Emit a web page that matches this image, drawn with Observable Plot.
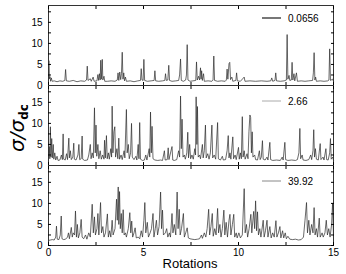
<!DOCTYPE html>
<html><head><meta charset="utf-8">
<script src="https://cdn.jsdelivr.net/npm/d3@7"></script>
<script src="https://cdn.jsdelivr.net/npm/@observablehq/plot@0.6"></script>
<style>
body{margin:0;background:#fff;}
#wrap{position:relative;width:346px;height:274px;font-family:"Liberation Sans",Arial,sans-serif;}
#wrap > svg{display:block;}
</style></head><body><div id="wrap"></div>
<script>
const legendLabels = ["0.0656", "2.66", "39.92"];
const xLabel = "Rotations";
const xTicks = [0, 2.5, 5, 7.5, 10, 12.5, 15];
const yTicks = [0, 2.5, 5, 7.5, 10, 12.5, 15, 17.5];

const series1 = [[0,1.2],[0.02,5.9],[0.05,1.6],[0.08,2.1],[0.11,1.0],[0.15,1.8],[0.19,1.0],[0.3,1.1],[0.45,0.9],[0.6,1.1],[0.75,1.0],[0.86,1.2],[0.9,3.8],[0.94,1.1],[1.1,1.0],[1.3,1.2],[1.5,0.9],[1.7,1.1],[1.9,1.0],[2.0,1.3],[2.04,4.6],[2.08,1.2],[2.2,1.6],[2.25,1.0],[2.35,2.0],[2.4,1.0],[2.55,1.1],[2.6,2.6],[2.64,1.2],[2.68,2.8],[2.72,1.3],[2.75,6.0],[2.78,1.5],[2.83,6.2],[2.86,1.3],[2.92,2.2],[2.96,1.0],[3.1,1.0],[3.3,1.1],[3.5,1.0],[3.62,1.3],[3.66,3.0],[3.7,1.2],[3.75,3.2],[3.8,1.4],[3.84,2.8],[3.88,7.9],[3.92,1.5],[3.96,3.0],[4.0,1.1],[4.05,2.0],[4.1,1.0],[4.3,1.1],[4.5,0.9],[4.7,1.1],[4.84,1.2],[4.88,4.0],[4.92,1.3],[4.98,1.2],[5.02,6.2],[5.06,1.2],[5.2,1.0],[5.4,1.1],[5.56,1.2],[5.6,3.5],[5.64,1.1],[5.8,1.0],[6.0,1.1],[6.12,1.2],[6.16,2.8],[6.2,1.2],[6.28,1.3],[6.33,4.8],[6.37,1.2],[6.5,1.0],[6.7,1.1],[6.85,1.2],[6.9,2.5],[6.95,6.3],[6.99,1.2],[7.1,1.0],[7.22,1.3],[7.26,2.5],[7.3,9.7],[7.34,1.3],[7.45,1.0],[7.6,1.1],[7.75,1.2],[7.79,5.6],[7.83,1.3],[7.9,2.2],[7.95,1.3],[8.0,4.2],[8.03,1.5],[8.06,3.5],[8.1,1.2],[8.16,2.8],[8.2,1.0],[8.4,1.1],[8.6,1.0],[8.66,1.3],[8.7,7.0],[8.74,1.2],[8.9,1.0],[9.1,1.1],[9.3,1.0],[9.36,1.3],[9.4,3.9],[9.44,1.5],[9.5,5.2],[9.54,5.5],[9.58,1.4],[9.65,2.0],[9.7,1.0],[9.86,1.2],[9.9,3.0],[9.94,1.1],[10.1,1.0],[10.3,2.0],[10.34,1.0],[10.6,1.1],[10.9,1.0],[11.2,1.1],[11.5,1.0],[11.7,1.1],[11.75,1.8],[11.8,1.0],[11.92,1.2],[11.96,3.0],[12.0,1.1],[12.2,1.0],[12.4,1.1],[12.52,1.3],[12.56,12.1],[12.6,1.5],[12.66,2.4],[12.7,1.2],[12.78,1.3],[12.82,5.5],[12.86,1.3],[12.92,2.8],[12.96,1.1],[13.05,3.0],[13.1,1.0],[13.3,1.1],[13.5,1.0],[13.7,1.1],[13.9,1.2],[13.94,3.0],[13.98,7.8],[14.02,1.3],[14.06,2.0],[14.1,1.0],[14.3,1.1],[14.5,1.0],[14.7,1.1],[14.76,1.3],[14.8,8.7],[14.84,1.2],[14.95,1.5],[15,1.0]];

const series2 = [[0,1.5],[0.04,4.5],[0.07,1.6],[0.1,9.2],[0.13,2.0],[0.17,6.4],[0.2,1.8],[0.25,5.0],[0.28,1.5],[0.33,3.0],[0.38,1.3],[0.45,2.2],[0.5,1.2],[0.6,1.3],[0.68,2.5],[0.73,1.4],[0.77,7.5],[0.8,1.5],[0.88,1.3],[0.95,2.8],[1.0,1.4],[1.07,6.5],[1.1,1.8],[1.15,3.5],[1.2,1.4],[1.28,2.0],[1.33,5.3],[1.36,1.5],[1.45,1.3],[1.55,2.5],[1.6,5.0],[1.64,1.4],[1.72,1.6],[1.77,7.0],[1.8,1.5],[1.9,1.2],[2.05,1.3],[2.12,2.5],[2.2,5.0],[2.24,1.6],[2.3,3.0],[2.36,1.8],[2.42,13.7],[2.46,3.0],[2.5,9.6],[2.54,2.2],[2.6,5.0],[2.65,1.6],[2.72,3.5],[2.78,1.5],[2.85,2.5],[2.92,1.5],[2.95,6.0],[2.99,1.8],[3.05,7.1],[3.09,1.6],[3.15,3.0],[3.2,1.5],[3.28,4.0],[3.32,2.0],[3.35,14.1],[3.39,3.0],[3.44,8.0],[3.49,9.2],[3.53,2.0],[3.6,4.0],[3.65,1.6],[3.7,6.5],[3.74,1.5],[3.82,2.5],[3.88,1.4],[3.98,3.5],[4.02,1.8],[4.1,13.3],[4.14,3.0],[4.2,5.0],[4.25,1.6],[4.32,3.0],[4.37,10.0],[4.41,2.0],[4.5,1.4],[4.6,2.2],[4.65,1.3],[4.72,5.0],[4.76,1.6],[4.8,10.2],[4.84,1.5],[4.95,1.2],[5.05,1.3],[5.12,2.5],[5.18,1.3],[5.3,4.0],[5.33,2.0],[5.37,12.7],[5.41,3.0],[5.45,9.3],[5.5,1.6],[5.6,1.3],[5.75,1.2],[5.9,1.3],[6.0,1.2],[6.1,3.5],[6.14,1.3],[6.25,1.4],[6.3,4.2],[6.34,1.4],[6.5,4.5],[6.54,1.3],[6.62,1.2],[6.75,1.4],[6.85,3.5],[6.9,2.0],[6.95,16.5],[6.99,4.0],[7.03,11.0],[7.08,2.0],[7.15,2.5],[7.2,1.5],[7.28,3.0],[7.33,7.9],[7.37,1.8],[7.43,5.0],[7.48,1.6],[7.55,2.5],[7.62,1.5],[7.7,4.0],[7.74,2.5],[7.77,16.3],[7.81,5.0],[7.84,14.0],[7.88,2.0],[7.95,2.5],[8.0,1.6],[8.1,5.0],[8.14,1.8],[8.2,3.5],[8.26,9.6],[8.3,1.8],[8.38,2.8],[8.45,1.5],[8.52,3.0],[8.6,9.6],[8.64,1.8],[8.72,2.5],[8.8,1.5],[8.9,10.2],[8.94,1.6],[9.05,1.3],[9.15,2.2],[9.2,1.3],[9.32,1.4],[9.4,3.5],[9.46,7.1],[9.5,1.8],[9.55,3.0],[9.6,1.5],[9.7,6.8],[9.74,1.6],[9.82,2.5],[9.88,1.4],[10.0,4.3],[10.04,1.5],[10.1,3.0],[10.15,1.6],[10.2,11.6],[10.24,2.0],[10.3,3.5],[10.35,1.5],[10.45,2.8],[10.5,1.6],[10.55,8.0],[10.6,12.0],[10.64,11.4],[10.68,3.0],[10.72,8.0],[10.76,2.0],[10.85,2.5],[10.9,1.4],[11.0,1.3],[11.1,3.5],[11.14,1.4],[11.2,2.0],[11.26,5.9],[11.3,1.5],[11.4,1.3],[11.5,2.0],[11.55,1.3],[11.65,5.5],[11.69,1.4],[11.8,1.2],[12.0,1.3],[12.2,1.2],[12.3,2.0],[12.35,1.3],[12.44,5.5],[12.48,1.4],[12.6,1.2],[12.8,1.3],[13.0,1.2],[13.1,1.4],[13.18,3.0],[13.23,8.8],[13.27,1.6],[13.35,2.5],[13.4,1.3],[13.55,1.2],[13.7,1.4],[13.8,2.5],[13.85,1.4],[13.92,3.5],[13.96,8.5],[14.0,2.0],[14.05,4.0],[14.1,1.5],[14.2,1.3],[14.3,5.2],[14.34,1.4],[14.45,2.0],[14.5,1.3],[14.6,4.0],[14.64,1.4],[14.72,1.3],[14.8,3.0],[14.84,6.4],[14.88,1.5],[14.95,2.0],[15,1.3]];

const series3 = [[0,1.2],[0.1,1.3],[0.2,1.4],[0.3,1.3],[0.38,2.0],[0.42,4.6],[0.46,1.5],[0.55,1.4],[0.62,2.5],[0.67,7.0],[0.71,1.6],[0.8,1.4],[0.9,1.5],[1.0,2.0],[1.05,3.0],[1.1,1.6],[1.2,4.3],[1.25,2.0],[1.3,3.0],[1.37,2.5],[1.42,8.2],[1.47,2.0],[1.52,5.0],[1.57,1.8],[1.65,3.0],[1.72,6.2],[1.77,2.0],[1.85,1.6],[1.95,2.5],[2.02,1.5],[2.12,3.0],[2.2,2.0],[2.3,9.8],[2.36,3.0],[2.42,6.8],[2.47,2.5],[2.55,4.0],[2.6,7.6],[2.65,2.5],[2.74,10.2],[2.79,3.0],[2.86,4.5],[2.92,2.0],[3.0,3.0],[3.1,7.5],[3.15,2.0],[3.22,3.5],[3.28,2.0],[3.35,6.0],[3.4,2.5],[3.5,4.0],[3.58,11.0],[3.62,6.0],[3.67,13.9],[3.7,5.0],[3.74,12.8],[3.78,4.0],[3.83,7.6],[3.88,3.0],[3.93,8.5],[3.98,2.5],[4.05,3.0],[4.1,2.0],[4.2,4.0],[4.28,7.8],[4.33,3.0],[4.38,5.8],[4.43,2.0],[4.5,3.0],[4.56,4.2],[4.62,1.8],[4.72,2.0],[4.8,1.6],[4.88,3.5],[4.95,2.0],[5.02,6.0],[5.07,10.2],[5.12,3.0],[5.2,5.5],[5.26,2.0],[5.35,3.0],[5.42,4.0],[5.5,7.6],[5.55,2.0],[5.62,4.0],[5.68,6.0],[5.74,2.5],[5.82,4.5],[5.9,12.7],[5.95,4.0],[6.0,8.4],[6.05,2.5],[6.15,3.0],[6.22,4.0],[6.28,2.0],[6.36,3.0],[6.42,2.0],[6.5,7.6],[6.55,3.0],[6.62,5.0],[6.7,2.5],[6.77,12.7],[6.82,4.0],[6.88,8.6],[6.93,2.5],[7.0,4.0],[7.1,7.6],[7.15,2.0],[7.22,3.0],[7.3,4.2],[7.36,1.8],[7.45,1.6],[7.55,1.5],[7.7,1.4],[7.85,1.5],[7.95,1.6],[8.05,2.5],[8.1,1.7],[8.2,3.0],[8.28,2.0],[8.35,4.0],[8.43,8.6],[8.48,2.5],[8.55,4.5],[8.62,7.6],[8.67,2.2],[8.75,4.0],[8.82,2.5],[8.9,8.8],[8.95,3.0],[9.02,5.0],[9.08,2.0],[9.15,4.0],[9.23,8.4],[9.28,2.5],[9.35,5.5],[9.42,2.0],[9.5,6.0],[9.55,7.4],[9.6,2.5],[9.68,5.0],[9.75,7.4],[9.8,2.0],[9.88,3.0],[9.93,1.8],[10.02,3.0],[10.1,1.8],[10.2,2.5],[10.3,13.5],[10.35,3.0],[10.42,5.0],[10.48,2.0],[10.56,4.0],[10.65,7.4],[10.7,3.0],[10.8,8.1],[10.85,4.0],[10.9,10.6],[10.95,3.5],[11.0,8.0],[11.05,2.5],[11.12,4.0],[11.18,2.0],[11.3,6.0],[11.35,2.0],[11.42,3.5],[11.5,6.0],[11.55,2.0],[11.65,4.5],[11.72,1.8],[11.8,3.0],[11.88,2.0],[11.97,5.9],[12.02,2.0],[12.1,3.0],[12.18,4.5],[12.23,1.8],[12.32,3.5],[12.38,1.8],[12.46,3.0],[12.52,1.6],[12.6,2.2],[12.7,1.5],[12.85,1.4],[13.0,1.5],[13.15,1.3],[13.3,1.4],[13.42,2.0],[13.5,6.0],[13.58,10.2],[13.63,3.0],[13.7,6.0],[13.76,2.5],[13.85,5.0],[13.92,3.0],[13.98,9.0],[14.03,2.5],[14.1,4.0],[14.16,2.0],[14.25,6.5],[14.3,2.0],[14.4,3.0],[14.46,2.0],[14.55,3.0],[14.62,6.0],[14.68,2.5],[14.75,4.0],[14.82,2.0],[14.9,5.0],[14.95,10.0],[15,2.0]];

const panels = [
  {data: series1, label: legendLabels[0], legendStroke: "#777", legendWidth: 2, mt: 5, mb: 0},
  {data: series2, label: legendLabels[1], legendStroke: "#aaa", legendWidth: 1, mt: 0, mb: 0},
  {data: series3, label: legendLabels[2], legendStroke: "#888", legendWidth: 1, mt: 0, mb: 29}
];

const wrap = document.getElementById("wrap");
const font = '"Liberation Sans", Arial, sans-serif';

panels.forEach((p, i) => {
  const last = i === panels.length - 1;
  const chart = Plot.plot({
    width: 346,
    height: p.mt + 80 + p.mb,
    marginLeft: 48, marginRight: 13, marginTop: p.mt, marginBottom: p.mb,
    style: {fontSize: "10px", fontFamily: font, color: "#000", background: "transparent", overflow: "visible"},
    x: {domain: [0, 15]},
    y: {domain: [0, 19]},
    marks: [
      Plot.line(p.data, {x: d => d[0], y: d => d[1], stroke: "#2a2a2a", strokeWidth: 0.7}),
      Plot.frame({stroke: "#333", strokeWidth: 1}),
      Plot.axisY(yTicks, {anchor: "left", tickSize: -3, tickPadding: 9, tickFormat: d => d % 5 === 0 ? String(d) : "", label: null}),
      Plot.axisY(yTicks, {anchor: "right", tickSize: -3, tickFormat: () => "", label: null}),
      Plot.axisX(xTicks, {anchor: "top", tickSize: -3, tickFormat: () => "", label: null}),
      Plot.axisX(xTicks, {anchor: "bottom", tickSize: -3, tickPadding: 6, tickFormat: last ? (d => d % 5 === 0 ? String(d) : "") : (() => ""), label: null})
    ]
  });
  const svg = d3.select(chart);
  const ly = p.mt + (i === 0 ? 13 : 16);
  svg.append("line").attr("x1", 262).attr("x2", 281).attr("y1", ly).attr("y2", ly)
    .attr("stroke", p.legendStroke).attr("stroke-width", p.legendWidth);
  svg.append("text").attr("x", 288).attr("y", ly).attr("dy", "0.35em").attr("text-anchor", "start")
    .attr("font-size", 10).attr("font-family", font).attr("fill", "#000").text(p.label);
  wrap.appendChild(chart);
});

const ov = d3.select(wrap).append("svg")
  .attr("width", 346).attr("height", 274)
  .style("position", "absolute").style("left", "0px").style("top", "0px").style("pointer-events", "none");
ov.append("text").attr("x", 190).attr("y", 268).attr("text-anchor", "middle")
  .attr("font-size", 13).attr("font-family", font).attr("fill", "#000").text(xLabel);
const yl = ov.append("text").attr("transform", "translate(24,128) rotate(-90)").attr("text-anchor", "middle")
  .attr("font-family", '"DejaVu Sans", sans-serif').attr("fill", "#000");
yl.append("tspan").attr("font-size", 20).attr("font-style", "italic").text("σ/σ");
yl.append("tspan").attr("font-size", 12).attr("font-weight", "bold").attr("dy", 4).text("dc");
</script></body></html>
